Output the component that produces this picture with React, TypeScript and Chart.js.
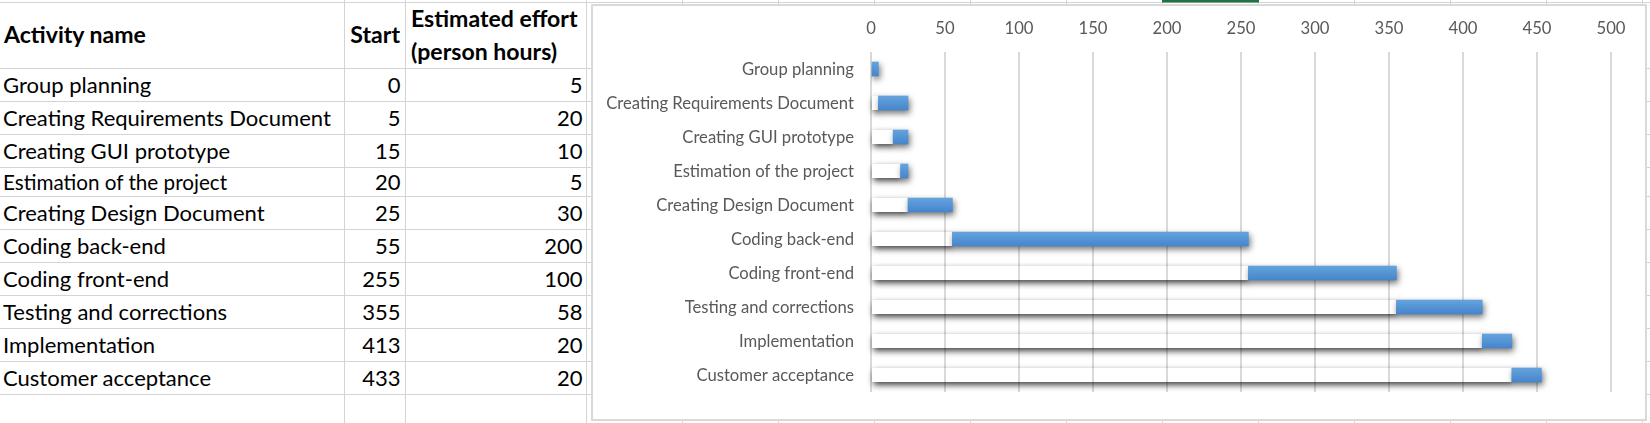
import React, { useEffect, useMemo, useRef } from "react";
import { Chart, registerables } from "chart.js";

Chart.register(...registerables);

// ---------- data ----------
const activityNames = [
  "Group planning",
  "Creating Requirements Document",
  "Creating GUI prototype",
  "Estimation of the project",
  "Creating Design Document",
  "Coding back-end",
  "Coding front-end",
  "Testing and corrections",
  "Implementation",
  "Customer acceptance",
];
const startHours = [0, 5, 15, 20, 25, 55, 255, 355, 413, 433];
const effortHours = [5, 20, 10, 5, 30, 200, 100, 58, 20, 20];
const axisTicks = [0, 50, 100, 150, 200, 250, 300, 350, 400, 450, 500];
const headerName = "Activity name";
const headerStart = "Start";
const headerEffortLines = ["Estimated effort", "(person hours)"];

// ---------- layout / style ----------
const FONT = "Lato";
const W = 1650;
const H = 423;
const rowBottoms = [101.5, 134.5, 167.5, 196.5, 229.5, 262.5, 295.5, 328.5, 361.5, 394.5];
const headerBottom = 68.5;
const topLine = 2.5;
const colLines = [344.5, 405.5, 586.5, 682.5, 778.5, 874.5, 970.5, 1066.5, 1162.5, 1258.5, 1354.5, 1450.5, 1546.5, 1642.5];
const smallNameRow = 3;

function fitFont(text: string, weight: string, target: number) {
  const c = document.createElement("canvas").getContext("2d")!;
  c.font = `${weight} 100px ${FONT}`;
  return (100 * target) / c.measureText(text).width;
}

const shadowPlugin = {
  id: "excelShadow",
  beforeDatasetsDraw(chart: any) {
    const meta = chart.getDatasetMeta(0);
    const ctx: CanvasRenderingContext2D = chart.ctx;
    const OFF = 5000;
    meta.data.forEach((el: any) => {
      const { x, y, base, height } = el.getProps(["x", "y", "base", "height"], true);
      const left = Math.min(x, base);
      const w = Math.abs(x - base);
      if (w < 0.5) return;
      const top = y - height / 2;
      ctx.save();
      ctx.beginPath();
      ctx.rect(0, 0, chart.width, chart.height);
      ctx.rect(left, top, w, height);
      ctx.clip("evenodd");
      ctx.shadowColor = "rgba(0,0,0,0.75)";
      ctx.shadowBlur = 6;
      ctx.shadowOffsetX = OFF + 1.5;
      ctx.shadowOffsetY = 3;
      ctx.fillStyle = "#000";
      ctx.fillRect(left - OFF, top, w, height);
      ctx.restore();
    });
  },
  beforeDatasetDraw(chart: any, args: any) {
    if (args.index === 1) {
      const ctx = chart.ctx;
      ctx.save();
      ctx.shadowColor = "rgba(0,0,0,0.55)";
      ctx.shadowBlur = 6;
      ctx.shadowOffsetX = 1.5;
      ctx.shadowOffsetY = 3;
    }
  },
  afterDatasetDraw(chart: any, args: any) {
    if (args.index === 1) chart.ctx.restore();
  },
};

export default function App() {
  const canvasRef = useRef<HTMLCanvasElement>(null);
  const fonts = useMemo(
    () => ({
      chart: fitFont("Creating Requirements Document", "400", 248),
      cell: fitFont("Creating Requirements Document", "400", 328),
      cellSmall: fitFont("Estimation of the project", "400", 224.6),
      head: fitFont("Estimated effort", "700", 166.6),
    }),
    []
  );

  useEffect(() => {
    const fs = fonts.chart;
    const chart = new Chart(canvasRef.current!, {
      type: "bar",
      data: {
        labels: activityNames,
        datasets: [
          {
            label: "Start",
            data: startHours,
            backgroundColor: "rgba(0,0,0,0)",
            borderWidth: 0,
            barThickness: 14,
          },
          {
            label: "Estimated effort (person hours)",
            data: effortHours,
            backgroundColor: (c: any) => {
              const ch = c.chart;
              if (c.type !== "data" || !ch.chartArea || !ch.scales.y) return "#5b9bd5";
              const yp = ch.scales.y.getPixelForValue(c.dataIndex);
              const g = ch.ctx.createLinearGradient(0, yp - 7, 0, yp + 7);
              g.addColorStop(0, "#65a3de");
              g.addColorStop(1, "#4585cb");
              return g;
            },
            borderWidth: 0,
            barThickness: 14,
          },
        ],
      },
      options: {
        indexAxis: "y",
        responsive: false,
        animation: false,
        devicePixelRatio: 1,
        layout: { padding: { left: 0, top: 0, right: 34, bottom: 22 } },
        plugins: { legend: { display: false }, tooltip: { enabled: false } },
        scales: {
          x: {
            position: "top",
            stacked: true,
            min: 0,
            max: 500,
            afterBuildTicks: (s: any) => {
              s.ticks = axisTicks.map((v) => ({ value: v }));
            },
            afterFit: (s: any) => {
              s.height = 46;
            },
            ticks: {
              color: "#595959",
              font: { family: FONT, size: fs },
              padding: 23.5 - 0.6 * fs,
              maxRotation: 0,
              autoSkip: false,
            },
            grid: { color: "#d9d9d9", lineWidth: 2, drawTicks: false },
            border: { display: false },
          },
          y: {
            stacked: true,
            afterFit: (s: any) => {
              s.width = 278;
            },
            ticks: {
              color: "#595959",
              font: { family: FONT, size: fs },
              padding: 17,
              autoSkip: false,
              labelOffset: 0.5,
            },
            grid: { display: false, drawTicks: false },
            border: { display: false },
          },
        },
      } as any,
      plugins: [shadowPlugin as any],
    });
    return () => chart.destroy();
  }, [fonts]);

  const gridColor = "#d4d4d4";
  const rowTops = [headerBottom, ...rowBottoms.slice(0, -1)];

  return (
    <div style={{ position: "absolute", left: 0, top: 0, width: W, height: H, background: "#fff", overflow: "hidden" }}>
      <svg width={W} height={H} style={{ position: "absolute", left: 0, top: 0 }}>
        <line x1={0} x2={W} y1={topLine} y2={topLine} stroke={gridColor} strokeWidth={1} />
        <line x1={0} x2={W} y1={headerBottom} y2={headerBottom} stroke={gridColor} strokeWidth={1} />
        {rowBottoms.map((y, i) => (
          <line key={"r" + i} x1={0} x2={W} y1={y} y2={y} stroke={gridColor} strokeWidth={1} />
        ))}
        {colLines.map((x, i) => (
          <line key={"c" + i} x1={x} x2={x} y1={0} y2={H} stroke={gridColor} strokeWidth={1} />
        ))}
        <rect x={1162} y={0} width={97} height={2.5} fill="#217346" />
        <g fontFamily={FONT} fill="#000">
          <text x={4} y={43} fontSize={fonts.head} fontWeight={700}>{headerName}</text>
          <text x={400} y={43} fontSize={fonts.head} fontWeight={700} textAnchor="end">{headerStart}</text>
          <text x={411} y={26.7} fontSize={fonts.head} fontWeight={700}>{headerEffortLines[0]}</text>
          <text x={411} y={59.7} fontSize={fonts.head} fontWeight={700}>{headerEffortLines[1]}</text>
          {activityNames.map((name, i) => {
            const h = rowBottoms[i] - rowTops[i];
            const baseline = rowBottoms[i] - (h < 31 ? 6.3 : 8.7);
            return (
              <g key={"t" + i}>
                <text x={3} y={baseline} fontSize={i === smallNameRow ? fonts.cellSmall : fonts.cell}>{name}</text>
                <text x={400.5} y={baseline} fontSize={fonts.cell} textAnchor="end">{String(startHours[i])}</text>
                <text x={582.5} y={baseline} fontSize={fonts.cell} textAnchor="end">{String(effortHours[i])}</text>
              </g>
            );
          })}
        </g>
      </svg>
      <div
        style={{
          position: "absolute",
          left: 591,
          top: 4,
          width: 1056,
          height: 417,
          border: "2px solid #d9d9d9",
          boxSizing: "border-box",
          background: "#fff",
        }}
      >
        <canvas
          ref={canvasRef}
          width={1052}
          height={413}
          style={{ position: "absolute", left: 0, top: 0, width: 1052, height: 413 }}
        />
      </div>
    </div>
  );
}
